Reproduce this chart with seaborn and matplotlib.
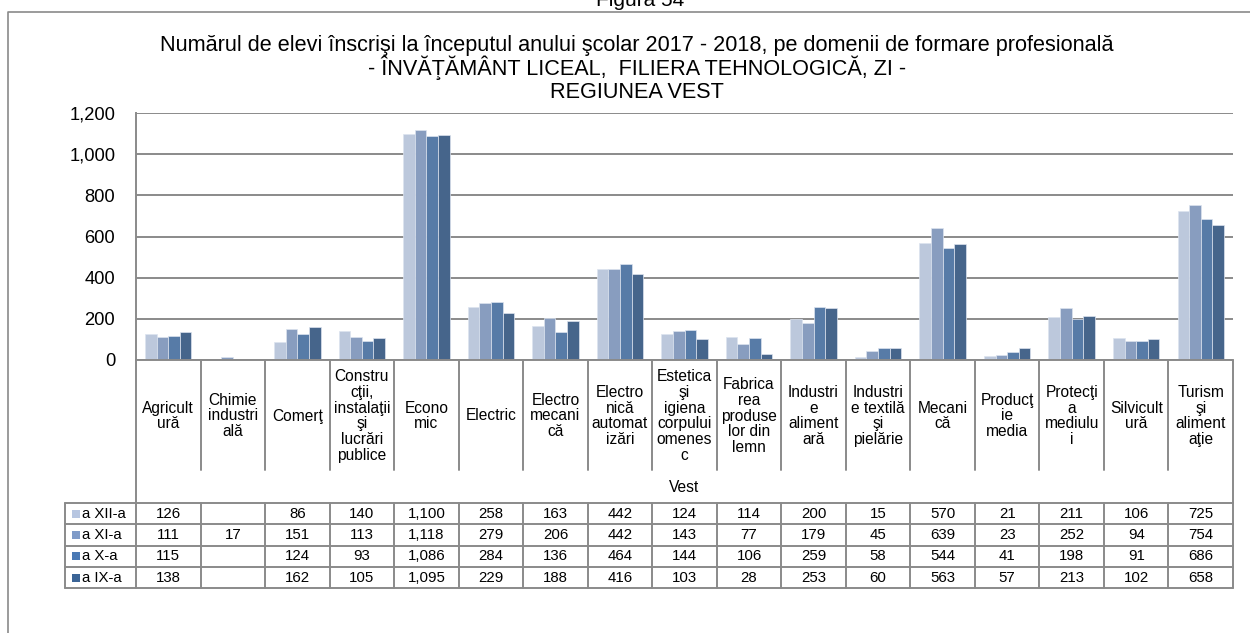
import numpy as np
import pandas as pd
import matplotlib
matplotlib.use("Agg")
import matplotlib.pyplot as plt
import matplotlib.transforms as mtransforms
from matplotlib.lines import Line2D
from matplotlib.patches import Rectangle
import seaborn as sns

# ---- data -------------------------------------------------------------
categories = [
    "Agricult\nură", "Chimie\nindustri\nală", "Comerţ",
    "Constru\ncţii,\ninstalaţii\nşi\nlucrări\npublice", "Econo\nmic",
    "Electric", "Electro\nmecani\ncă", "Electro\nnică\nautomat\nizări",
    "Estetica\nşi\nigiena\ncorpului\nomenes\nc",
    "Fabrica\nrea\nproduse\nlor din\nlemn", "Industri\ne\naliment\nară",
    "Industri\ne textilă\nşi\npielărie", "Mecani\ncă", "Producţ\nie\nmedia",
    "Protecţi\na\nmediulu\ni", "Silvicult\nură", "Turism\nşi\naliment\naţie",
]
series = ["a XII-a", "a XI-a", "a X-a", "a IX-a"]
nan = np.nan
clasa_XII = [126, nan, 86, 140, 1100, 258, 163, 442, 124, 114, 200, 15, 570, 21, 211, 106, 725]
clasa_XI = [111, 17, 151, 113, 1118, 279, 206, 442, 143, 77, 179, 45, 639, 23, 252, 94, 754]
clasa_X = [115, nan, 124, 93, 1086, 284, 136, 464, 144, 106, 259, 58, 544, 41, 198, 91, 686]
clasa_IX = [138, nan, 162, 105, 1095, 229, 188, 416, 103, 28, 253, 60, 563, 57, 213, 102, 658]
region_label = "Vest"
yticks = [0, 200, 400, 600, 800, 1000, 1200]
title_lines = [
    "Numărul de elevi înscrişi la începutul anului şcolar 2017 - 2018, pe domenii de formare profesională",
    "- ÎNVĂŢĂMÂNT LICEAL,  FILIERA TEHNOLOGICĂ, ZI -",
    "REGIUNEA VEST",
]
figure_label = "Figura 54"

values = [clasa_XII, clasa_XI, clasa_X, clasa_IX]
colors = ["#B7C6E1", "#7F9BC8", "#4A79B4", "#3B6496"]

df = pd.DataFrame(
    [(c, s, v) for s, vals in zip(series, values) for c, v in zip(categories, vals)],
    columns=["domeniu", "clasa", "elevi"],
)

# ---- figure -----------------------------------------------------------
W, H = 1250, 633
sns.set_theme(style="white")
plt.rcParams["font.family"] = ["Liberation Sans", "DejaVu Sans"]
fig = plt.figure(figsize=(W / 100, H / 100), dpi=100)

def fy(py):
    return 1 - py / H

def fx(px):
    return px / W

ax_left, ax_right, ax_top, ax_bottom = 136, 1233, 113, 360
ax = fig.add_axes([fx(ax_left), fy(ax_bottom), fx(ax_right - ax_left), (ax_bottom - ax_top) / H])

grid_c = "#8A8A8A"
sns.barplot(
    data=df, x="domeniu", y="elevi", hue="clasa", order=categories,
    hue_order=series, palette=colors, errorbar=None, width=0.72,
    edgecolor="#DCE3EF", linewidth=0.5, legend=False, ax=ax,
)
ax.set_xlim(-0.5, len(categories) - 0.5)
ax.set_ylim(0, 1200)
ax.set_yticks(yticks)
ax.set_yticklabels([f"{t:,}" for t in yticks], fontsize=13.2, color="#000000")
ax.tick_params(axis="y", length=0, pad=15)
ax.tick_params(axis="x", length=0, labelbottom=False)
ax.set_xlabel("")
ax.set_ylabel("")
ax.yaxis.grid(True, color=grid_c, linewidth=1.4)
ax.set_axisbelow(True)
for side in ["top", "right", "bottom"]:
    ax.spines[side].set_visible(False)
ax.spines["left"].set_color(grid_c)
ax.spines["left"].set_linewidth(1.4)

# ---- data table under the plot ---------------------------------------
tr = mtransforms.blended_transform_factory(ax.transData, fig.transFigure)
n = len(categories)
x_l, x_r = -0.5, n - 0.5
col_px = (ax_right - ax_left) / n
x_leg = -0.5 - 71 / col_px
lab_top, lab_bot = 360, 470
rows_top, row_h = 503, 21.3
rows_bot = rows_top + row_h * len(series)

def vline(x, y0, y1):
    fig.add_artist(Line2D([x, x], [fy(y0), fy(y1)], transform=tr, color=grid_c, lw=1.4))

def hline(x0, x1, y):
    fig.add_artist(Line2D([x0, x1], [fy(y), fy(y)], transform=tr, color=grid_c, lw=1.4))

hline(x_l, x_r, lab_top)
vline(x_l, lab_top, rows_bot)
vline(x_r, lab_top, rows_bot)
for i in range(1, n):
    vline(i - 0.5, lab_top, lab_bot)
    vline(i - 0.5, rows_top, rows_bot)
vline(x_leg, rows_top, rows_bot)
for k in range(len(series) + 1):
    hline(x_leg, x_r, rows_top + k * row_h)

for i, lab in enumerate(categories):
    fig.text(i, fy((lab_top + lab_bot) / 2 + 1), lab, transform=tr, ha="center", va="center",
             fontsize=11.2, linespacing=1.08, color="#000000")
fig.text((x_l + x_r) / 2, fy(488), region_label, transform=tr, ha="center", va="center",
         fontsize=11.2, color="#000000")

key_w = 8 / col_px
for k, (s, vals, col) in enumerate(zip(series, values, colors)):
    yc = rows_top + (k + 0.5) * row_h
    fig.add_artist(Rectangle((x_leg + 7 / col_px, fy(yc + 4)), key_w, 8 / H, transform=tr,
                             facecolor=col, edgecolor="none"))
    fig.text(x_leg + 17 / col_px, fy(yc), s, transform=tr, ha="left", va="center",
             fontsize=10.8, color="#000000")
    for i, v in enumerate(vals):
        if not np.isnan(v):
            fig.text(i, fy(yc), f"{int(v):,}", transform=tr, ha="center", va="center",
                     fontsize=10.8, color="#000000")

# ---- titles and outer frame ------------------------------------------
for py, line in zip([45, 68, 93], title_lines):
    fig.text(fx(637), fy(py), line, ha="center", va="center", fontsize=15.6, color="#000000")
fig.text(fx(640), fy(6), figure_label, ha="center", va="baseline", fontsize=15, color="#000000")
fig.add_artist(Line2D([fx(8), fx(8), fx(W + 5)], [fy(H + 5), fy(12), fy(12)],
                      transform=fig.transFigure, color=grid_c, lw=1.2))

fig.savefig("out.png", dpi=100)
